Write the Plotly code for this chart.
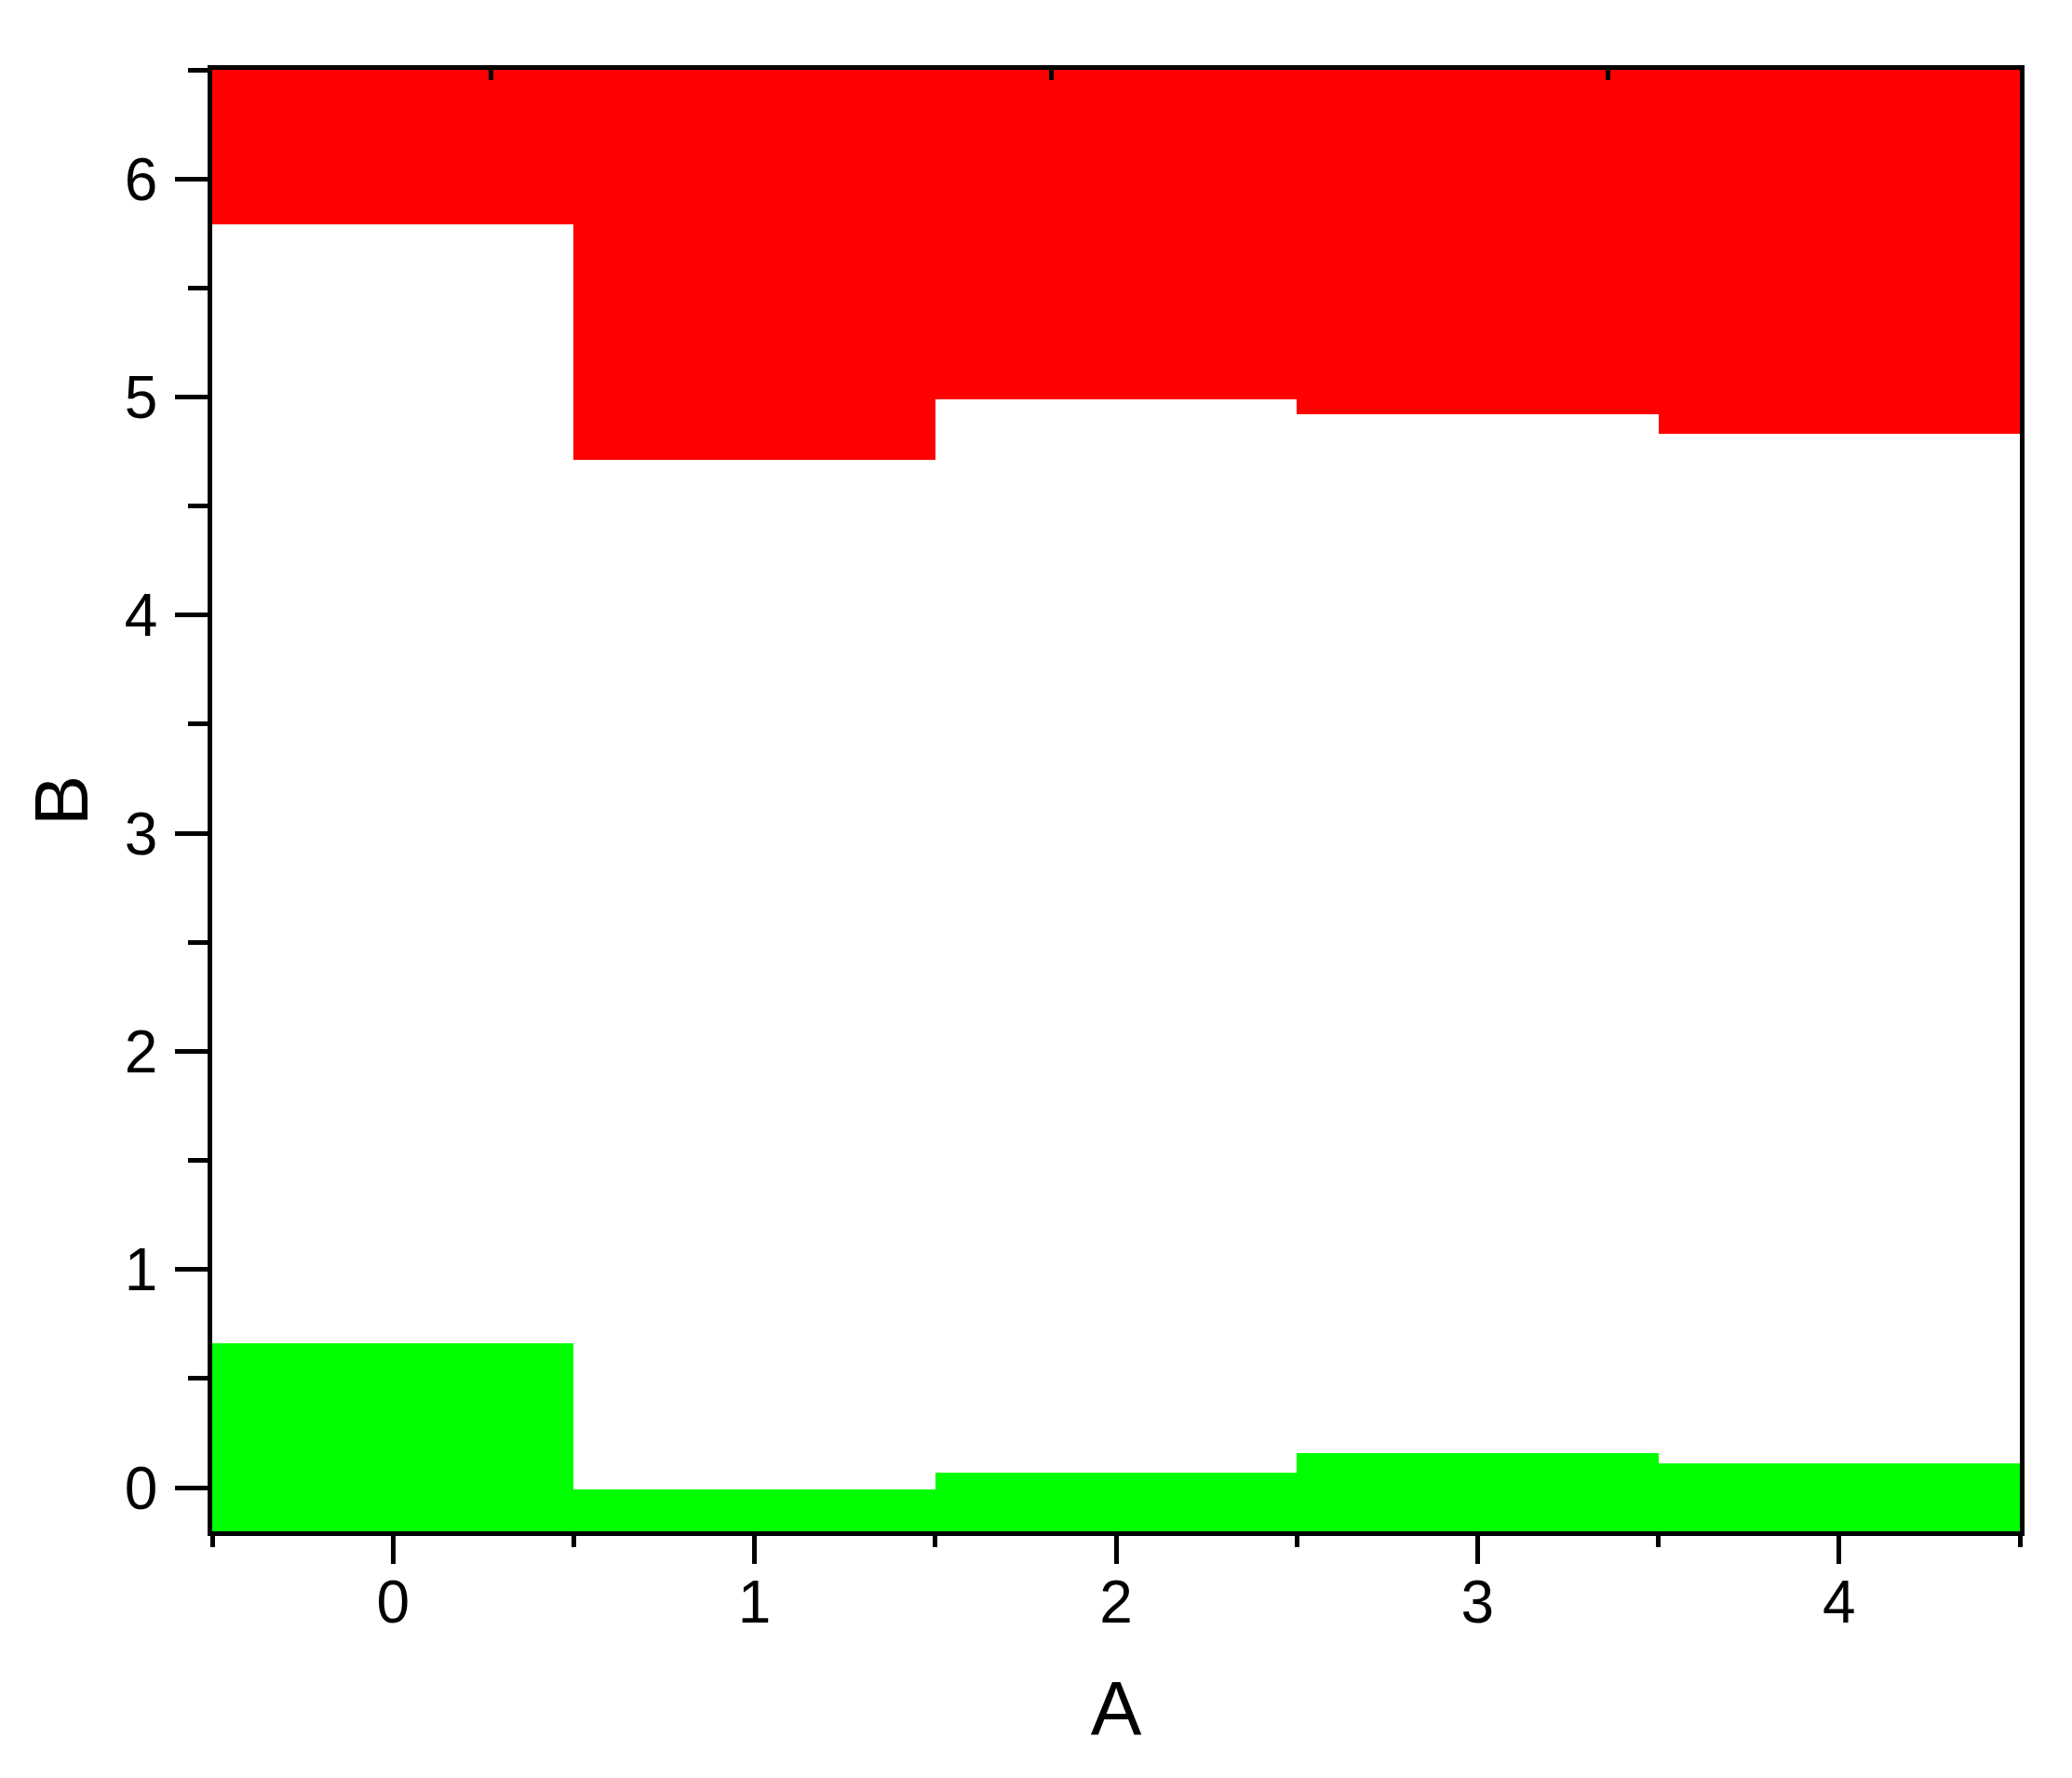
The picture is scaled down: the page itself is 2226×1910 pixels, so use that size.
import plotly.graph_objects as go

# data
A = [0, 1, 2, 3, 4]
red_level = [5.79, 4.71, 4.99, 4.92, 4.83]     # red fill runs from here up to the top of the axis
green_level = [0.66, -0.01, 0.07, 0.16, 0.11]  # green fill runs from the bottom of the axis up to here
top_ticks = [0.27, 1.82, 3.36]

y_lo, y_hi = -0.2, 6.5
font = "Liberation Sans, Arial, sans-serif"
lw = 4.5

fig = go.Figure()
fig.add_trace(go.Bar(
    x=A, y=[y_hi - v for v in red_level], base=red_level,
    width=1, marker=dict(color="#FF0000", line=dict(width=0)),
    showlegend=False,
))
fig.add_trace(go.Bar(
    x=A, y=[v - y_lo for v in green_level], base=y_lo,
    width=1, marker=dict(color="#00FF00", line=dict(width=0)),
    showlegend=False,
))

fig.update_layout(
    width=2226, height=1910,
    margin=dict(l=220, r=64, t=67, b=273),
    plot_bgcolor="white", paper_bgcolor="white",
    bargap=0, barmode="overlay",
    font=dict(family=font, color="black"),
    xaxis=dict(
        range=[-0.5, 4.5], tickvals=A, ticks="outside", ticklen=30, tickwidth=lw,
        tickcolor="black", showline=True, linecolor="black", linewidth=lw,
        showgrid=False, zeroline=False, mirror=False,
        tickfont=dict(size=64), ticklabelstandoff=-14,
        minor=dict(tickvals=[-0.5, 0.5, 1.5, 2.5, 3.5, 4.5], ticks="outside",
                   ticklen=12, tickwidth=lw, tickcolor="black"),
        title=dict(text="A", font=dict(size=82), standoff=52),
    ),
    xaxis2=dict(
        overlaying="x", side="top", range=[-0.5, 4.5], tickvals=top_ticks,
        ticks="inside", ticklen=11, tickwidth=lw, tickcolor="black",
        showticklabels=False, showline=True, linecolor="black", linewidth=lw,
        showgrid=False, zeroline=False,
    ),
    yaxis=dict(
        range=[y_lo, y_hi], dtick=1, tick0=0, ticks="outside", ticklen=35, tickwidth=lw,
        tickcolor="black", showline=True, linecolor="black", linewidth=lw,
        showgrid=False, zeroline=False,
        tickfont=dict(size=64), ticklabelstandoff=6,
        minor=dict(dtick=0.5, tick0=0, ticks="outside", ticklen=21, tickwidth=lw,
                   tickcolor="black"),
        title=dict(text="B", font=dict(size=82), standoff=14),
    ),
    yaxis2=dict(
        overlaying="y", side="right", range=[y_lo, y_hi], showticklabels=False,
        ticks="", showline=True, linecolor="black", linewidth=lw,
        showgrid=False, zeroline=False,
    ),
)
# invisible trace so the mirror axes on top and right are drawn
fig.add_trace(go.Scatter(x=[None], y=[None], xaxis="x2", yaxis="y2",
                         showlegend=False, hoverinfo="skip"))

fig.write_html("out.html")
